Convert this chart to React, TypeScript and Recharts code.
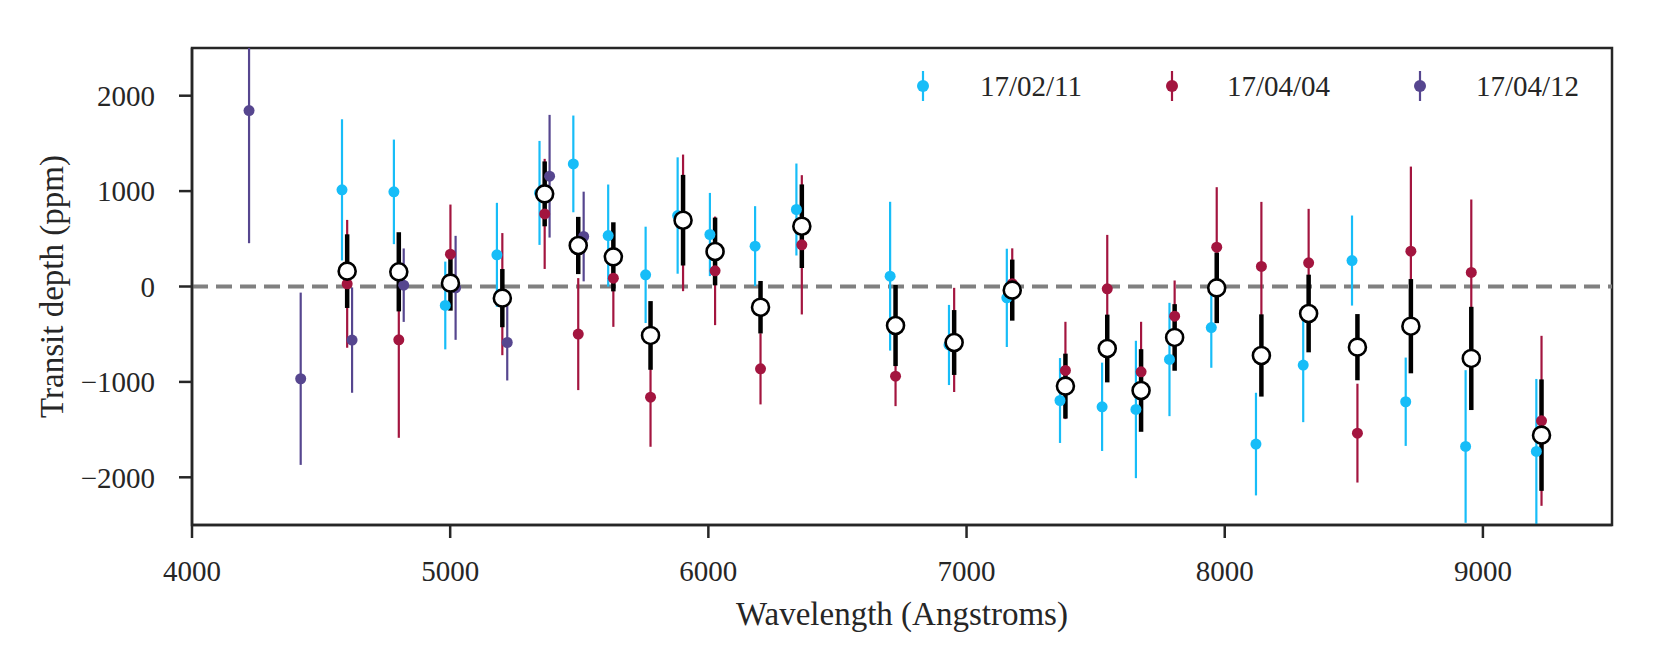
import { ComposedChart, ErrorBar, Label, ReferenceArea, ReferenceLine, Scatter, XAxis, YAxis } from "recharts";

const FONT = '"Liberation Serif", "Times New Roman", serif';
const INK = "#262626";

// 17/02/11 visit
const febWave = [4581, 4782, 4981, 5181, 5346, 5477, 5612, 5757, 5881, 6006, 6181, 6341, 6704, 6932, 7156, 7362, 7525, 7656, 7786, 7948, 8121, 8304, 8493, 8701, 8933, 9207];
const febDepth = [1013, 992, -199, 332, 981, 1285, 534, 122, 744, 545, 423, 807, 108, -613, -119, -1195, -1261, -1289, -765, -430, -1652, -824, 272, -1208, -1677, -1729];
const febErr = [740, 548, 460, 545, 545, 507, 535, 505, 610, 436, 419, 482, 780, 420, 515, 445, 463, 720, 594, 422, 538, 598, 472, 463, 800, 760];

// 17/04/04 visit (same bins as the combined spectrum)
const binWave = [4601, 4801, 5001, 5202, 5366, 5496, 5632, 5776, 5902, 6026, 6202, 6362, 6725, 6952, 7177, 7383, 7545, 7676, 7806, 7969, 8142, 8325, 8514, 8721, 8955, 9227];
const aprDepth = [28, -559, 339, -80, 761, -499, 87, -1160, 667, 164, -863, 437, -940, -560, 30, -880, -24, -894, -311, 412, 210, 248, -1537, 370, 147, -1408];
const aprErr = [670, 1027, 520, 640, 577, 587, 510, 520, 716, 569, 373, 730, 314, 546, 370, 510, 565, 524, 374, 629, 677, 566, 518, 887, 765, 891];

// 17/04/12 visit
const apr12Wave = [4221, 4421, 4620, 4820, 5021, 5221, 5385, 5517];
const apr12Depth = [1844, -967, -562, 14, -14, -587, 1156, 524];
const apr12Err = [1390, 903, 552, 385, 545, 398, 643, 470];

// combined
const meanDepth = [161, 154, 35, -122, 971, 430, 311, -513, 695, 367, -217, 632, -409, -587, -38, -1044, -650, -1090, -534, -14, -723, -283, -636, -416, -754, -1558];
const meanErr = [386, 415, 288, 305, 340, 300, 362, 360, 475, 355, 275, 438, 425, 340, 320, 340, 355, 433, 349, 370, 431, 407, 347, 494, 541, 584];

const xTicks = [4000, 5000, 6000, 7000, 8000, 9000];
const yTicks = [-2000, -1000, 0, 1000, 2000];
const xDomain = [4000, 9500];
const yDomain = [-2500, 2500];

// error bars are cut at the frame, as in the original plot
function toRows(wave: number[], depth: number[], err: number[]) {
  return wave.map((w, i) => ({
    wave: w,
    depth: depth[i],
    err: [Math.min(err[i], depth[i] - yDomain[0]), Math.min(err[i], yDomain[1] - depth[i])]
  }));
}

const series = [
  { name: "17/02/11", color: "#17bdf8", rows: toRows(febWave, febDepth, febErr) },
  { name: "17/04/04", color: "#a3153f", rows: toRows(binWave, aprDepth, aprErr) },
  { name: "17/04/12", color: "#56468f", rows: toRows(apr12Wave, apr12Depth, apr12Err) }
];
const combined = toRows(binWave, meanDepth, meanErr);

const W = 1661;
const H = 664;
const left = 192;
const top = 48;
const right = 1612;
const bottom = 525;

const fmt = (v: number) => (v < 0 ? "\u2212" + Math.abs(v) : String(v));

export default function App() {
  return (
    <div style={{ position: "relative", width: W, height: H, margin: -8, background: "#fff" }}>
      <ComposedChart width={W} height={H} margin={{ top, right: W - right, left: 0, bottom: 0 }}>
        <XAxis
          type="number"
          dataKey="wave"
          domain={xDomain}
          ticks={xTicks}
          allowDataOverflow
          height={H - bottom}
          tickSize={13}
          tickMargin={22}
          axisLine={{ stroke: INK, strokeWidth: 2.5 }}
          tickLine={{ stroke: INK, strokeWidth: 2.5 }}
          tick={{ fill: INK, fontSize: 29, fontFamily: FONT }}
        >
          <Label content={() => <text x={(left + right) / 2} y={625} textAnchor="middle" fill={INK} fontSize={33} fontFamily={FONT}>Wavelength (Angstroms)</text>} />
        </XAxis>
        <YAxis
          type="number"
          dataKey="depth"
          domain={yDomain}
          ticks={yTicks}
          allowDataOverflow
          width={left}
          tickSize={13}
          tickMargin={24}
          tickFormatter={fmt}
          axisLine={{ stroke: INK, strokeWidth: 2.5 }}
          tickLine={{ stroke: INK, strokeWidth: 2.5 }}
          tick={{ fill: INK, fontSize: 29, fontFamily: FONT }}
        >
          <Label content={() => <text x={63} y={(top + bottom) / 2} transform={`rotate(-90 63 ${(top + bottom) / 2})`} textAnchor="middle" fill={INK} fontSize={33} fontFamily={FONT}>Transit depth (ppm)</text>} />
        </YAxis>
        <ReferenceLine y={0} stroke="#808080" strokeWidth={4} strokeDasharray="16 8" />
        {series.map((s) => (
          <Scatter key={s.name} name={s.name} data={s.rows} isAnimationActive={false}
            shape={(p: any) => <circle cx={p.cx} cy={p.cy} r={5.5} fill={s.color} />}>
            <ErrorBar dataKey="err" direction="y" width={0} stroke={s.color} strokeWidth={2.2} isAnimationActive={false} />
          </Scatter>
        ))}
        <Scatter name="combined" data={combined} isAnimationActive={false}
          shape={(p: any) => <circle cx={p.cx} cy={p.cy} r={8.5} fill="#fff" stroke="#000" strokeWidth={2.6} />}>
          <ErrorBar dataKey="err" direction="y" width={0} stroke="#000" strokeWidth={4.5} isAnimationActive={false} />
        </Scatter>
        <ReferenceArea x1={xDomain[0]} x2={xDomain[1]} y1={yDomain[0]} y2={yDomain[1]} fill="none" stroke={INK} strokeWidth={2.5} />
      </ComposedChart>
      <ChartLegend />
    </div>
  );
}

const legendMarkX = [923, 1172, 1420];
const legendTextX = [980, 1227, 1476];

function ChartLegend() {
  return (
    <>
      {series.map((s, i) => (
        <div key={s.name}>
          <svg width={20} height={34} style={{ position: "absolute", left: legendMarkX[i] - 10, top: 86 - 17 }}>
            <line x1={10} x2={10} y1={2} y2={32} stroke={s.color} strokeWidth={2.2} />
            <circle cx={10} cy={17} r={6} fill={s.color} />
          </svg>
          <span style={{ position: "absolute", left: legendTextX[i], top: 71.5, fontSize: 29, lineHeight: "29px", fontFamily: FONT, color: INK, whiteSpace: "nowrap" }}>{s.name}</span>
        </div>
      ))}
    </>
  );
}
